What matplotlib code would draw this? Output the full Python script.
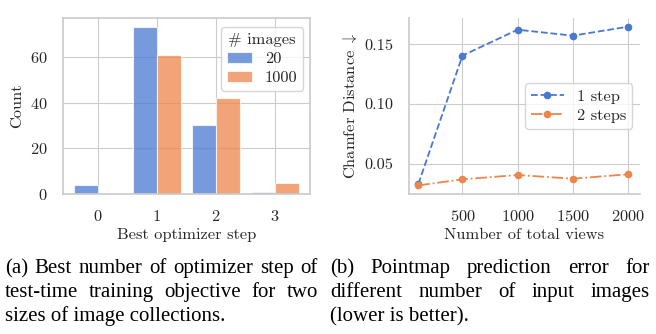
import matplotlib
matplotlib.use("Agg")
import matplotlib.pyplot as plt
import numpy as np
import seaborn as sns

# ---- data ----
steps = [0, 1, 2, 3]
count_20 = [4, 73, 30, 1]
count_1000 = [0, 61, 42, 5]
hue_labels = ["20", "1000"]

views = [100, 500, 1000, 1500, 2000]
cd_1step = [0.033, 0.1405, 0.1622, 0.1572, 0.1647]
cd_2steps = [0.0318, 0.0369, 0.0405, 0.0374, 0.0411]

caption_a = ["(a) Best number of optimizer step of",
             "test-time training objective for two",
             "sizes of image collections."]
caption_b = ["(b) Pointmap prediction error for",
             "different number of input images",
             "(lower is better)."]

sns.set_theme(style="whitegrid")
plt.rcParams['font.family'] = ['serif']
plt.rcParams['font.serif'] = ['cmr10', 'DejaVu Serif']
plt.rcParams['mathtext.fontset'] = 'cm'
plt.rcParams['axes.formatter.use_mathtext'] = True
plt.rcParams['axes.unicode_minus'] = False

pal = sns.color_palette("muted")
blue, orange = pal[0], pal[1]

fig = plt.figure(figsize=(6.56, 3.34), dpi=100)
ax1 = fig.add_axes([63/656, 1-194/334, 247/656, 176/334])
ax2 = fig.add_axes([409/656, 1-194/334, 231/656, 176/334])

fs = 11.8
# ---- left: dodge bar chart ----
w = 0.4
x = np.array(steps)
ax1.bar(x - w/2, count_20, width=w, color=blue, alpha=0.75, edgecolor='white', linewidth=0.8, label=hue_labels[0])
ax1.bar(x + w/2, count_1000, width=w, color=orange, alpha=0.75, edgecolor='white', linewidth=0.8, label=hue_labels[1])
ax1.set_xticks(steps)
ax1.set_xlim(-0.59, 3.59)
ax1.set_ylim(0, 77)
ax1.set_yticks([0, 20, 40, 60])
ax1.set_xlabel("Best optimizer step", fontsize=fs, labelpad=3)
ax1.set_ylabel("Count", fontsize=fs, labelpad=4)
ax1.tick_params(labelsize=fs, pad=5)
for s in ax1.spines.values():
    s.set_color('0.8')
ax1.grid(True, color='0.8', linewidth=0.8)
ax1.set_axisbelow(True)
leg1 = ax1.legend(title="# images", fontsize=fs, title_fontsize=fs, loc='upper right',
                  bbox_to_anchor=(0.972, 0.949), borderaxespad=0, frameon=True, borderpad=0.35,
                  handlelength=1.5, labelspacing=0.3, handletextpad=0.8)
leg1.get_frame().set_edgecolor('0.8')

# ---- right: lines ----
ax2.plot(views, cd_1step, linestyle='--', marker='o', markersize=4.5, color=blue, linewidth=1.3, label="1 step")
ax2.plot(views, cd_2steps, linestyle='-.', marker='o', markersize=4.5, color=orange, linewidth=1.3, label="2 steps")
ax2.set_xlim(15, 2110)
ax2.set_ylim(0.0246, 0.172)
ax2.set_xticks([500, 1000, 1500, 2000])
ax2.set_yticks([0.05, 0.10, 0.15])
ax2.set_yticklabels(["0.05", "0.10", "0.15"])
ax2.set_xlabel("Number of total views", fontsize=fs, labelpad=3)
ax2.set_ylabel(r"Chamfer Distance $\downarrow$", fontsize=fs, labelpad=4)
ax2.tick_params(labelsize=fs, pad=5)
ax2.spines['top'].set_visible(False)
ax2.spines['right'].set_visible(False)
for s in ax2.spines.values():
    s.set_color('0.8')
ax2.grid(True, color='0.8', linewidth=0.8)
leg2 = ax2.legend(fontsize=fs, loc='center right', bbox_to_anchor=(0.965, 0.5), borderaxespad=0,
                  frameon=True, handlelength=2.0, labelspacing=0.3, borderpad=0.35)
leg2.get_frame().set_edgecolor('0.8')

# ---- captions (justified) ----
renderer = fig.canvas.get_renderer()

def fit_size(lines, width_frac, max_size):
    size = max_size
    while size > 6:
        ok = True
        for line in lines[:-1]:
            t = fig.text(0, 0, line, family='Liberation Serif', fontsize=size)
            wd = t.get_window_extent(renderer).width / fig.bbox.width
            t.remove()
            if wd > width_frac:
                ok = False
                break
        if ok:
            return size
        size -= 0.1
    return size

def draw_caption(lines, x0, x1, y0, dy, size):
    cap_font = dict(family='Liberation Serif', fontsize=size, color='black')
    for i, line in enumerate(lines):
        y = y0 - i * dy
        words = line.split(' ')
        if i == len(lines) - 1:
            fig.text(x0, y, line, va='baseline', ha='left', **cap_font)
            continue
        txts = [fig.text(0, y, wd, va='baseline', ha='left', **cap_font) for wd in words]
        widths = [t.get_window_extent(renderer).width / fig.bbox.width for t in txts]
        gap = (x1 - x0 - sum(widths)) / (len(words) - 1)
        cx = x0
        for t, wdt in zip(txts, widths):
            t.set_x(cx)
            cx += wdt + gap

size = min(fit_size(caption_a, 313/656, 15), fit_size(caption_b, 320/656, 15))
draw_caption(caption_a, 5/656, 318/656, 1-273/334, 24/334, size)
draw_caption(caption_b, 330/656, 650/656, 1-273/334, 24/334, size)

fig.savefig("out.png", dpi=100)
